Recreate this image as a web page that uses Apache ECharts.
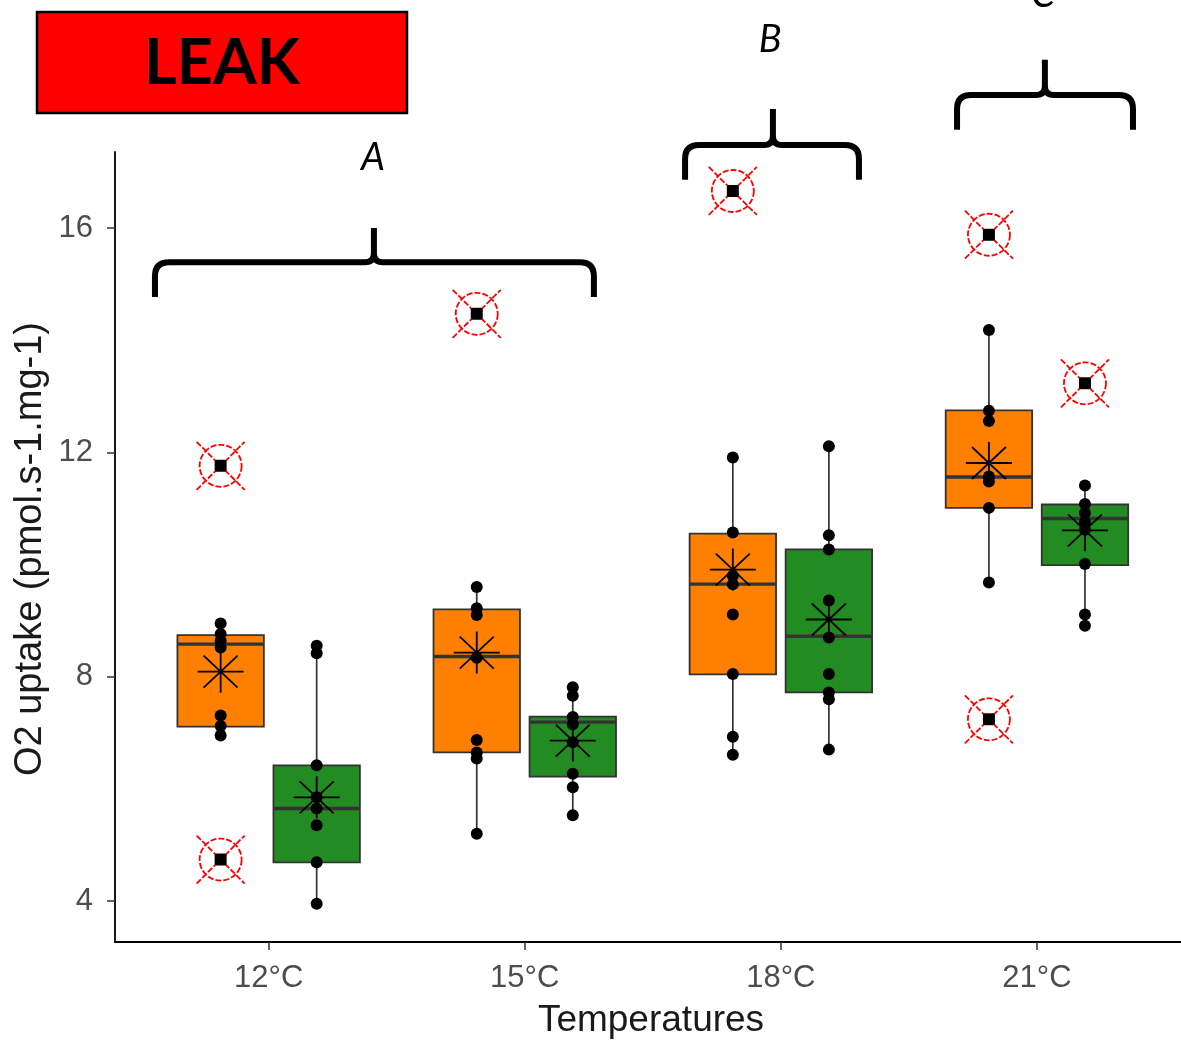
<!DOCTYPE html>
<html>
<head>
<meta charset="utf-8">
<script src="https://cdn.jsdelivr.net/npm/echarts@6/dist/echarts.min.js"></script>
<style>html,body{margin:0;padding:0;background:#fff}#c{width:1181px;height:1041px}</style>
</head>
<body>
<div id="c"></div>
<script>
// ---------------- data ----------------
const categories = ['12°C', '15°C', '18°C', '21°C'];
const yTicks = [4, 8, 12, 16];
// [lower whisker, Q1, median, Q3, upper whisker]
const boxOrange = [
  [6.95, 7.11, 8.58, 8.74, 8.95],
  [5.20, 6.65, 8.36, 9.20, 9.60],
  [6.61, 8.04, 9.65, 10.55, 11.91],
  [9.68, 11.01, 11.56, 12.75, 14.18]
];
const boxGreen = [
  [3.95, 4.69, 5.65, 6.42, 8.49],
  [5.53, 6.22, 7.19, 7.29, 7.81],
  [6.70, 7.72, 8.72, 10.27, 12.11],
  [8.91, 9.99, 10.82, 11.07, 11.41]
];
const meanOrange = [8.09, 8.43, 9.91, 11.81];
const meanGreen = [5.85, 6.86, 9.02, 10.61];
const pointsOrange = [
  [8.95, 8.76, 8.64, 8.52, 7.31, 7.12, 6.95],
  [9.60, 9.22, 9.10, 8.34, 6.87, 6.65, 6.54, 5.20],
  [11.91, 10.57, 9.80, 9.65, 9.11, 8.05, 6.93, 6.61],
  [14.18, 12.74, 12.56, 11.57, 11.48, 11.01, 9.68]
];
const pointsGreen = [
  [8.55, 8.42, 6.42, 5.85, 5.65, 5.35, 4.69, 3.95],
  [7.81, 7.66, 7.28, 7.15, 6.83, 6.27, 6.03, 5.53],
  [12.11, 10.52, 10.27, 9.36, 8.70, 8.05, 7.72, 7.60, 6.70],
  [11.41, 11.08, 10.92, 10.76, 10.62, 10.01, 9.11, 8.91]
];
const outliersOrange = [[11.76, 4.74], [14.47], [16.66], [15.88, 7.24]];
const outliersGreen = [[], [], [], [13.23]];
// significance braces: [xLeft, xRight, xCenter, yEnds, yBar, yTip] (axis units)
const braceLetters = ['A', 'B', 'C'];
const braces = [
  [0.556, 2.270, 1.411, 14.77, 15.39, 16.00],
  [2.626, 3.305, 2.969, 16.86, 17.48, 18.12],
  [3.688, 4.375, 4.031, 17.75, 18.37, 19.00]
];
const letterPos = [[1.407, 17.25], [2.958, 19.35], [4.024, 20.16]];

// ---------------- layout constants ----------------
const DODGE = 0.1875;
const BOX_W = 0.3375;
const ORANGE = '#FF7F00';
const GREEN = '#228B22';

function boxData(arr, off) {
  return arr.map((b, i) => [i + 1 + off].concat(b));
}
function pointData(arr, off) {
  const out = [];
  arr.forEach((g, i) => g.forEach(v => out.push([i + 1 + off, v])));
  return out;
}
function meanData(arr, off) {
  return arr.map((v, i) => [i + 1 + off, v]);
}

function renderBox(color) {
  return function (params, api) {
    const x = api.value(0);
    const lo = api.coord([x, api.value(1)]);
    const q1 = api.coord([x, api.value(2)]);
    const md = api.coord([x, api.value(3)]);
    const q3 = api.coord([x, api.value(4)]);
    const hi = api.coord([x, api.value(5)]);
    const w = api.size([BOX_W, 0])[0];
    const cx = q1[0];
    const st = { stroke: '#333333', lineWidth: 1.7 };
    return {
      type: 'group',
      children: [
        { type: 'line', shape: { x1: cx, y1: q3[1], x2: cx, y2: hi[1] }, style: st },
        { type: 'line', shape: { x1: cx, y1: q1[1], x2: cx, y2: lo[1] }, style: st },
        { type: 'rect', shape: { x: cx - w / 2, y: q3[1], width: w, height: q1[1] - q3[1] },
          style: { fill: color, stroke: '#333333', lineWidth: 1.8 } },
        { type: 'line', shape: { x1: cx - w / 2, y1: md[1], x2: cx + w / 2, y2: md[1] },
          style: { stroke: '#333333', lineWidth: 3.4 } }
      ]
    };
  };
}

function renderOutlier(params, api) {
  const p = api.coord([api.value(0), api.value(1)]);
  const red = { stroke: '#FF0000', lineWidth: 1.8, lineDash: [6, 2], fill: null };
  const d = 24;
  return {
    type: 'group',
    children: [
      { type: 'circle', shape: { cx: p[0], cy: p[1], r: 21 }, style: red },
      { type: 'line', shape: { x1: p[0] - d, y1: p[1] - d, x2: p[0] + d, y2: p[1] + d }, style: red },
      { type: 'line', shape: { x1: p[0] - d, y1: p[1] + d, x2: p[0] + d, y2: p[1] - d }, style: red },
      { type: 'rect', shape: { x: p[0] - 6, y: p[1] - 6, width: 12, height: 12, r: 2 }, style: { fill: '#000' } }
    ]
  };
}

function renderStar(params, api) {
  const p = api.coord([api.value(0), api.value(1)]);
  const st = { stroke: '#000', lineWidth: 1.8 };
  const L = (x1, y1, x2, y2) => ({ type: 'line', shape: { x1: p[0] + x1, y1: p[1] + y1, x2: p[0] + x2, y2: p[1] + y2 }, style: st });
  return {
    type: 'group',
    children: [
      L(-23, 0, 23, 0), L(0, -21, 0, 21), L(-17, -16, 17, 16), L(-17, 16, 17, -16)
    ]
  };
}

function renderBrace(params, api) {
  const i = params.dataIndex;
  const b = braces[i];
  const L = api.coord([b[0], b[4]]);
  const R = api.coord([b[1], b[4]]);
  const C = api.coord([b[2], b[5]]);
  const yEnd = api.coord([b[0], b[3]])[1];
  const yH = L[1];
  const r = 14, r2 = 9;
  const path =
    'M' + L[0] + ',' + yEnd +
    ' L' + L[0] + ',' + (yH + r) +
    ' Q' + L[0] + ',' + yH + ' ' + (L[0] + r) + ',' + yH +
    ' L' + (C[0] - r2) + ',' + yH +
    ' Q' + C[0] + ',' + yH + ' ' + C[0] + ',' + (yH - r2) +
    ' L' + C[0] + ',' + C[1] +
    ' M' + C[0] + ',' + (yH - r2) +
    ' Q' + C[0] + ',' + yH + ' ' + (C[0] + r2) + ',' + yH +
    ' L' + (R[0] - r) + ',' + yH +
    ' Q' + R[0] + ',' + yH + ' ' + R[0] + ',' + (yH + r) +
    ' L' + R[0] + ',' + yEnd;
  const lp = api.coord(letterPos[i]);
  return {
    type: 'group',
    children: [
      { type: 'path', shape: { pathData: path }, style: { stroke: '#000', lineWidth: 6, fill: null, lineJoin: 'round' } },
      { type: 'text', x: lp[0], y: lp[1],
        style: { text: braceLetters[i], font: 'italic 38px Lato, "Open Sans", sans-serif', fill: '#000', align: 'center', verticalAlign: 'middle' } }
    ]
  };
}

const chart = echarts.init(document.getElementById('c'), null, { renderer: 'canvas' });
const tickFont = '"Liberation Sans", Arial, sans-serif';

chart.setOption({
  animation: false,
  backgroundColor: '#ffffff',
  grid: { left: 115, right: 0, top: 152, bottom: 99, containLabel: false },
  xAxis: {
    type: 'value', min: 0.4, max: 4.5625,
    splitLine: { show: false },
    axisLine: { show: true, onZero: false, lineStyle: { color: '#000', width: 1.8 } },
    axisTick: { show: true, customValues: [1, 2, 3, 4], length: 8, lineStyle: { color: '#333', width: 1.5 } },
    axisLabel: { customValues: [1, 2, 3, 4], formatter: v => categories[Math.round(v) - 1] || '',
      color: '#4d4d4d', fontSize: 31, fontFamily: tickFont, margin: 21 }
  },
  yAxis: {
    type: 'value', min: 3.27, max: 17.355,
    splitLine: { show: false },
    axisLine: { show: true, onZero: false, lineStyle: { color: '#000', width: 1.8 } },
    axisTick: { show: true, customValues: yTicks, length: 8, lineStyle: { color: '#333', width: 1.5 } },
    axisLabel: { customValues: yTicks, color: '#4d4d4d', fontSize: 31, fontFamily: tickFont, margin: 22 }
  },
  graphic: [
    { type: 'rect', shape: { x: 37, y: 12, width: 370, height: 101 }, style: { fill: '#FF0000', stroke: '#000', lineWidth: 2.5 }, z: 100 },
    { type: 'text', x: 222, y: 64, style: { text: 'LEAK', font: 'bold 63px Lato, "Open Sans", sans-serif', fill: '#000', align: 'center', verticalAlign: 'middle' }, z: 101 },
    { type: 'text', x: 31, y: 549, rotation: Math.PI / 2,
      style: { text: 'O2 uptake (pmol.s-1.mg-1)', font: '38px "Liberation Sans", Arial, sans-serif', fill: '#1a1a1a', align: 'center', verticalAlign: 'middle' } },
    { type: 'text', x: 651, y: 1021,
      style: { text: 'Temperatures', font: '37px "Liberation Sans", Arial, sans-serif', fill: '#1a1a1a', align: 'center', verticalAlign: 'middle' } }
  ],
  series: [
    { type: 'custom', name: 'box orange', data: boxData(boxOrange, -DODGE), renderItem: renderBox(ORANGE), encode: { x: 0, y: [1, 2, 3, 4, 5] } },
    { type: 'custom', name: 'box green', data: boxData(boxGreen, DODGE), renderItem: renderBox(GREEN), encode: { x: 0, y: [1, 2, 3, 4, 5] } },
    { type: 'custom', name: 'outliers orange', data: pointData(outliersOrange, -DODGE), renderItem: renderOutlier, clip: false },
    { type: 'custom', name: 'outliers green', data: pointData(outliersGreen, DODGE), renderItem: renderOutlier, clip: false },
    { type: 'scatter', name: 'points orange', data: pointData(pointsOrange, -DODGE), symbol: 'circle', symbolSize: 12, itemStyle: { color: '#000', opacity: 1 } },
    { type: 'scatter', name: 'points green', data: pointData(pointsGreen, DODGE), symbol: 'circle', symbolSize: 12, itemStyle: { color: '#000', opacity: 1 } },
    { type: 'custom', name: 'mean orange', data: meanData(meanOrange, -DODGE), renderItem: renderStar },
    { type: 'custom', name: 'mean green', data: meanData(meanGreen, DODGE), renderItem: renderStar },
    { type: 'custom', name: 'braces', data: braces.map(b => [b[2], b[5]]), renderItem: renderBrace, clip: false, silent: true }
  ]
});
</script>
</body>
</html>
